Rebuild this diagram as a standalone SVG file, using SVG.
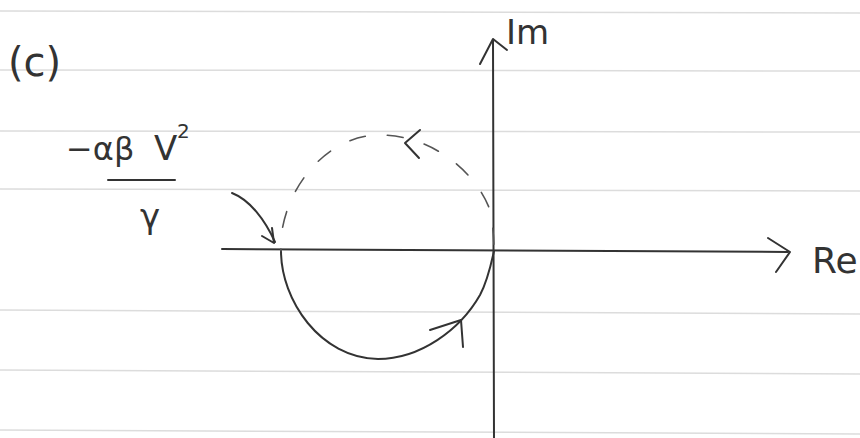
<svg xmlns="http://www.w3.org/2000/svg" width="860" height="438" viewBox="0 0 860 438">
<style>
.rule{stroke:#dcdcdc;stroke-width:1.5;fill:none}
.ink{stroke:#333;stroke-width:2;fill:none;stroke-linecap:round;stroke-linejoin:round}
.dash{stroke:#555;stroke-width:1.6;fill:none;stroke-dasharray:16 22;stroke-linecap:round}
.t{font-family:"DejaVu Sans","Liberation Sans",sans-serif;fill:#333}
</style>
<rect width="860" height="438" fill="#fff"/>
<g id="paper-lines">
<line class="rule" x1="0" y1="11" x2="860" y2="13"/>
<line class="rule" x1="0" y1="70" x2="860" y2="71"/>
<line class="rule" x1="0" y1="131" x2="860" y2="132"/>
<line class="rule" x1="0" y1="189" x2="860" y2="191"/>
<line class="rule" x1="0" y1="310" x2="860" y2="314"/>
<line class="rule" x1="0" y1="370" x2="860" y2="374"/>
<line class="rule" x1="0" y1="430" x2="860" y2="434"/>
</g>
<g id="label-c"><text class="t" x="8" y="76" font-size="40">(c)</text></g>
<g id="connectors">
<g id="im-axis">
<line class="ink" x1="493" y1="40" x2="494" y2="438" stroke-width="1.8"/>
<polyline class="ink" points="480,64 493,39 507,50"/>
</g>
<g id="re-axis">
<line class="ink" x1="222" y1="249" x2="788" y2="252" stroke-width="1.8"/>
<polyline class="ink" points="768,238 790,252 776,272"/>
</g>
<g id="circle-lower">
<path class="ink" d="M281,251 C281,300 320,358 378,359 C420,359 460,330 480,295 C487,282 491,265 494,251"/>
<polyline class="ink" points="430,330 461,320 463,347"/>
</g>
<g id="circle-upper">
<path class="dash" d="M281,251 C278,200 320,135 380,135 C430,135 475,170 490,210 C493,225 494,240 494,251" stroke-dashoffset="14"/>
<polyline class="ink" points="420,130 405,143 419,158"/>
</g>
<g id="pointer">
<path class="ink" d="M232,193 C250,200 265,220 275,242" stroke-width="1.6"/>
<polyline class="ink" points="262,236 274,243 272,228" stroke-width="1.6"/>
</g>
</g>
<g id="label-im"><text class="t" x="506" y="44" font-size="34">Im</text></g>
<g id="label-re"><text class="t" x="812" y="273" font-size="36">Re</text></g>
<g id="label-value">
<text class="t" x="66" y="160" font-size="32">−αβ</text>
<text class="t" x="154" y="160" font-size="34">V</text>
<text class="t" x="177" y="138" font-size="20">2</text>
<line class="ink" x1="108" y1="180" x2="175" y2="180"/>
<text class="t" x="140" y="228" font-size="34">γ</text>
</g>
</svg>
